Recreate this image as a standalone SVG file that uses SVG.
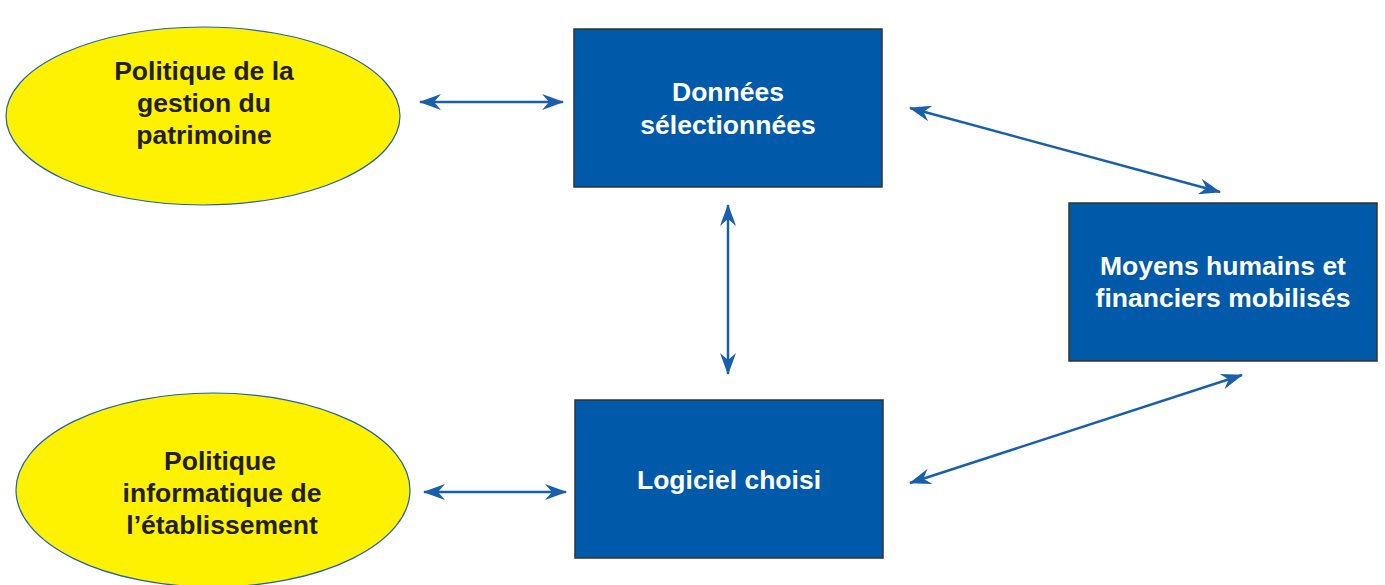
<svg xmlns="http://www.w3.org/2000/svg" width="1385" height="585" viewBox="0 0 1385 585">
<style>
.ell{fill:#fff200;stroke:#1f63ad;stroke-width:1.2}
.box{fill:#0059a9;stroke:#333333;stroke-width:1.5}
.t{font-family:"Liberation Sans",Arial,sans-serif;font-weight:bold;font-size:26.5px;text-anchor:middle}
.dark{fill:#231f20}
.light{fill:#ffffff}
.con{stroke:#1a5fab;stroke-width:2.5;fill:none;marker-start:url(#ah);marker-end:url(#ah)}
</style>
<defs>
<marker id="ah" viewBox="0 0 22 16" refX="21" refY="8" markerWidth="22" markerHeight="16" markerUnits="userSpaceOnUse" orient="auto-start-reverse">
<path d="M0,0 L22,8 L0,16 L7,8 z" fill="#1a5fab"/>
</marker>
</defs>
<rect width="1385" height="585" fill="#ffffff"/>
<g id="connectors">
<line class="con" x1="420" y1="102" x2="563" y2="102"/>
<line class="con" x1="424" y1="492" x2="566" y2="492"/>
<line class="con" x1="728" y1="205" x2="728" y2="374"/>
<line class="con" x1="910" y1="108" x2="1220" y2="192"/>
<line class="con" x1="910" y1="483" x2="1242" y2="375"/>
</g>
<g id="node-politique-patrimoine">
<ellipse class="ell" cx="203" cy="116" rx="197" ry="89"/>
<text class="t dark" x="204" y="80">Politique de la</text>
<text class="t dark" x="204" y="112">gestion du</text>
<text class="t dark" x="204" y="144">patrimoine</text>
</g>
<g id="node-politique-informatique">
<ellipse class="ell" cx="213" cy="490" rx="197" ry="97"/>
<text class="t dark" x="220" y="470">Politique</text>
<text class="t dark" x="222" y="502">informatique de</text>
<text class="t dark" x="222" y="534">l’établissement</text>
</g>
<g id="node-donnees">
<rect class="box" x="574" y="29" width="308" height="158"/>
<text class="t light" x="728" y="101">Données</text>
<text class="t light" x="728" y="134">sélectionnées</text>
</g>
<g id="node-logiciel">
<rect class="box" x="575" y="400" width="308" height="158"/>
<text class="t light" x="729" y="489">Logiciel choisi</text>
</g>
<g id="node-moyens">
<rect class="box" x="1069" y="203" width="308" height="158"/>
<text class="t light" x="1223" y="275">Moyens humains et</text>
<text class="t light" x="1223" y="307">financiers mobilisés</text>
</g>
</svg>
